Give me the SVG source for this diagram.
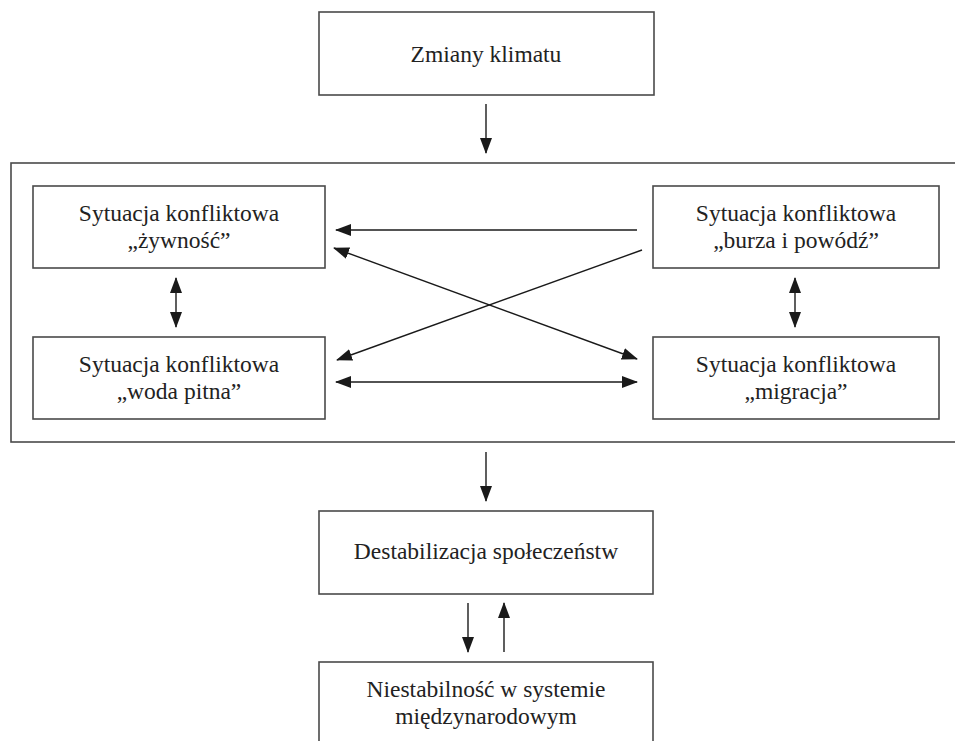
<svg xmlns="http://www.w3.org/2000/svg" width="955" height="741" viewBox="0 0 955 741">
<style>
.box{fill:#fff;stroke:#4a4a4a;stroke-width:1.6}
.frame{fill:none;stroke:#4a4a4a;stroke-width:1.6}
.t{font-family:"Liberation Serif","Times New Roman",serif;font-size:23.5px;fill:#222;text-anchor:middle}
.c{stroke:#1a1a1a;stroke-width:1.4;fill:none}
</style>
<defs>
<marker id="ah" markerUnits="userSpaceOnUse" markerWidth="16" markerHeight="12" refX="15" refY="6" orient="auto-start-reverse" viewBox="0 0 16 12">
<path d="M0,0 L16,6 L0,12 z" fill="#1a1a1a"/>
</marker>
</defs>
<rect width="955" height="741" fill="#fff"/>
<g id="frame"><rect class="frame" x="11" y="163" width="952" height="279"/></g>
<g id="n-klimat"><rect class="box" x="319" y="12" width="335" height="83"/><text class="t" x="486" y="62">Zmiany klimatu</text></g>
<g id="n-zywnosc"><rect class="box" x="33" y="186" width="292" height="82"/><text class="t" x="179" y="221">Sytuacja konfliktowa</text><text class="t" x="179" y="248">„żywność”</text></g>
<g id="n-woda"><rect class="box" x="33" y="337" width="292" height="82"/><text class="t" x="179" y="372">Sytuacja konfliktowa</text><text class="t" x="179" y="399">„woda pitna”</text></g>
<g id="n-burza"><rect class="box" x="653" y="186" width="286" height="82"/><text class="t" x="796" y="221">Sytuacja konfliktowa</text><text class="t" x="796" y="248">„burza i powódź”</text></g>
<g id="n-migracja"><rect class="box" x="653" y="337" width="286" height="82"/><text class="t" x="796" y="372">Sytuacja konfliktowa</text><text class="t" x="796" y="399">„migracja”</text></g>
<g id="n-destab"><rect class="box" x="319" y="511" width="334" height="83"/><text class="t" x="486" y="559">Destabilizacja społeczeństw</text></g>
<g id="n-niestab"><rect class="box" x="319" y="662" width="334" height="100"/><text class="t" x="486" y="697">Niestabilność w systemie</text><text class="t" x="486" y="724">międzynarodowym</text></g>
<g id="connectors">
<line class="c" x1="486" y1="104" x2="486" y2="153" marker-end="url(#ah)"/>
<line class="c" x1="637" y1="230" x2="336" y2="230" marker-end="url(#ah)"/>
<line class="c" x1="642" y1="250" x2="337" y2="360" marker-end="url(#ah)"/>
<line class="c" x1="334" y1="248" x2="637" y2="359" marker-start="url(#ah)" marker-end="url(#ah)"/>
<line class="c" x1="336" y1="382" x2="637" y2="382" marker-start="url(#ah)" marker-end="url(#ah)"/>
<line class="c" x1="176" y1="278" x2="176" y2="327" marker-start="url(#ah)" marker-end="url(#ah)"/>
<line class="c" x1="795" y1="278" x2="795" y2="327" marker-start="url(#ah)" marker-end="url(#ah)"/>
<line class="c" x1="486" y1="452" x2="486" y2="501" marker-end="url(#ah)"/>
<line class="c" x1="468" y1="603" x2="468" y2="652" marker-end="url(#ah)"/>
<line class="c" x1="504" y1="652" x2="504" y2="603" marker-end="url(#ah)"/>
</g>
</svg>
